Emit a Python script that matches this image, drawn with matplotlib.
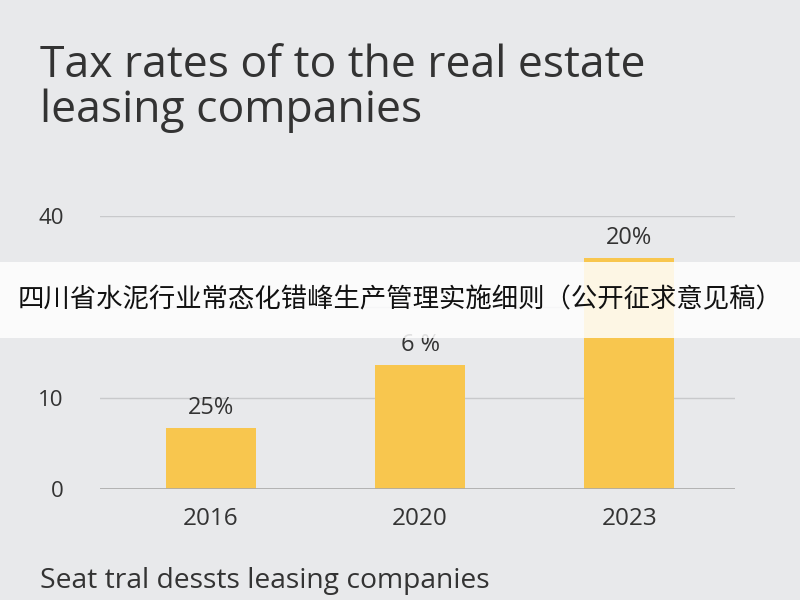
import matplotlib
matplotlib.use("Agg")
import matplotlib.pyplot as plt
from matplotlib.patches import Rectangle

plt.rcParams['font.family'] = ['Open Sans', 'DejaVu Sans']

years = ["2016", "2020", "2023"]
values = [6.7, 13.6, 25.4]
bar_labels = ["25%", "6 %", "20%"]
ytick_vals = [0, 10, 20, 30]
ytick_labels = ["0", "10", "", "40"]

bg = "#e8e9eb"
fig = plt.figure(figsize=(8, 6), dpi=100, facecolor=bg)
ax = fig.add_axes([0.125, 0.185, 0.794, 0.455], facecolor=bg)
x = list(range(len(years)))
ax.bar(x, values, width=0.43, color="#f8c64e", zorder=3)
for xi, v, l in zip(x, values, bar_labels):
    ax.text(xi, v + 0.9, l, ha="center", va="bottom", fontsize=17, color="#333333")
ax.set_xlim(-0.531, 2.507)
ax.set_ylim(0, 30)
ax.set_yticks(ytick_vals)
ax.set_yticklabels(ytick_labels, fontsize=16, color="#333333")
ax.set_xticks(x)
ax.set_xticklabels(years, fontsize=17.5, color="#333333")
ax.tick_params(length=0, pad=26, axis="y")
ax.tick_params(length=0, pad=13, axis="x")
ax.grid(axis="y", color="#c8c9cb", linewidth=1, zorder=0)
ax.axhline(0, color="#aaaaaa", linewidth=1.2, zorder=4)
for s in ax.spines.values():
    s.set_visible(False)

fig.text(0.05, 0.927, "Tax rates of to the real estate\nleasing companies", fontsize=32,
         color="#333333", va="top", ha="left", linespacing=1.0)
fig.text(0.05, 0.02, "Seat tral dessts leasing companies", fontsize=20.3, color="#333333")

fig.patches.append(Rectangle((0, 1 - 338/600), 1, 76/600, transform=fig.transFigure,
                             facecolor="white", alpha=0.85, zorder=5))
fig.text(0.5, 1 - 300/600, "四川省水泥行业常态化错峰生产管理实施细则（公开征求意见稿）",
         ha="center", va="center", fontsize=19, color="#111111", zorder=6,
         family=["Noto Sans CJK SC", "DejaVu Sans"])

fig.savefig("out.png", dpi=100, facecolor=bg)
